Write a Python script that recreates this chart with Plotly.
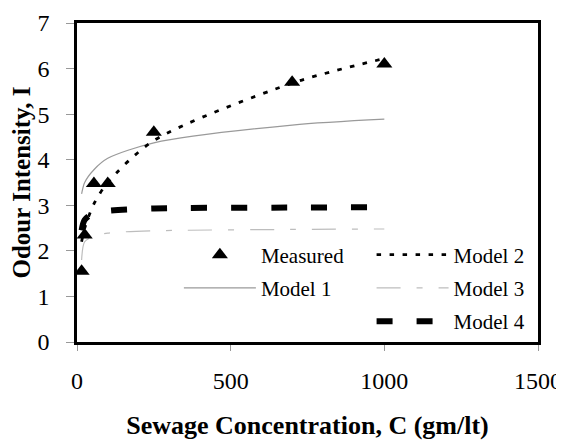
import plotly.graph_objects as go

# Data
conc = [15, 25, 55, 100, 250, 700, 1000]
measured = [1.55, 2.35, 3.48, 3.48, 4.6, 5.7, 6.1]
model1 = [3.25, 3.5, 3.78, 4.03, 4.37, 4.76, 4.89]
model2 = [2.2, 2.5, 3.03, 3.5, 4.42, 5.68, 6.22]
model3 = [1.8, 2.2, 2.32, 2.39, 2.44, 2.47, 2.48]
model4 = [2.45, 2.68, 2.83, 2.88, 2.93, 2.95, 2.96]

x_ticks = [0, 500, 1000, 1500]
y_ticks = [0, 1, 2, 3, 4, 5, 6, 7]

SERIF = "Liberation Serif"

fig = go.Figure()

fig.add_trace(go.Scatter(
    x=conc, y=model3, mode="lines", name="Model 3", legend="legend2",
    legendgroup="m3", legendrank=2,
    line=dict(color="#bdbdbd", width=1.2, dash="24px,16px,6px,16px", shape="spline", smoothing=0.8)))
fig.add_trace(go.Scatter(
    x=conc, y=model1, mode="lines", name="Model 1", legend="legend",
    legendgroup="m1", legendrank=2,
    line=dict(color="#9a9a9a", width=1.2, shape="spline", smoothing=0.8)))
fig.add_trace(go.Scatter(
    x=conc, y=model4, mode="lines", name="Model 4", legend="legend2",
    legendgroup="m4", legendrank=3,
    line=dict(color="black", width=6, dash="16px,24px", shape="spline", smoothing=0.8)))
fig.add_trace(go.Scatter(
    x=conc, y=model2, mode="lines", name="Model 2", legend="legend2",
    legendgroup="m2", legendrank=1,
    line=dict(color="black", width=2.8, dash="4.5px,8.5px", shape="spline", smoothing=0.8)))
fig.add_trace(go.Scatter(
    x=conc, y=measured, mode="markers", name="Measured", legend="legend",
    legendgroup="ms", legendrank=1,
    marker=dict(symbol="triangle-up", size=14, color="black")))

legend_common = dict(
    font=dict(family=SERIF, size=21, color="black"),
    bgcolor="rgba(0,0,0,0)", borderwidth=0,
    itemwidth=72, tracegroupgap=3,
    xanchor="left", yanchor="top", orientation="v",
    itemclick=False, itemdoubleclick=False,
)

fig.update_layout(
    width=556, height=434,
    margin=dict(l=69, r=26, t=15, b=100, autoexpand=False),
    paper_bgcolor="white", plot_bgcolor="white",
    font=dict(family=SERIF, color="black"),
    showlegend=True,
    legend=dict(x=0.221, y=0.337, **legend_common),
    legend2=dict(x=0.639, y=0.337, **legend_common),
    xaxis=dict(
        range=[0, 1500], tickvals=x_ticks, ticktext=[str(v) for v in x_ticks],
        showgrid=False, zeroline=False, automargin=False,
        showline=True, linecolor="black", linewidth=2.5, mirror=True,
        ticks="outside", ticklen=6, tickwidth=1, tickcolor="#999999",
        tickfont=dict(family=SERIF, size=24, color="black"),
        ticklabelstandoff=9,
        title=dict(text="<b>Sewage Concentration, C (gm/lt)</b>",
                   font=dict(family=SERIF, size=26, color="black"), standoff=24),
    ),
    yaxis=dict(
        range=[0, 7], tickvals=y_ticks, ticktext=[str(v) for v in y_ticks],
        showgrid=False, zeroline=False, automargin=False,
        showline=True, linecolor="black", linewidth=2.5, mirror=True,
        ticks="outside", ticklen=8, tickwidth=1, tickcolor="#999999",
        tickfont=dict(family=SERIF, size=24, color="black"),
        ticklabelstandoff=12,
        title=dict(text="<b>Odour Intensity, I</b>",
                   font=dict(family=SERIF, size=25, color="black"), standoff=6),
    ),
)

fig.write_html("out.html")
